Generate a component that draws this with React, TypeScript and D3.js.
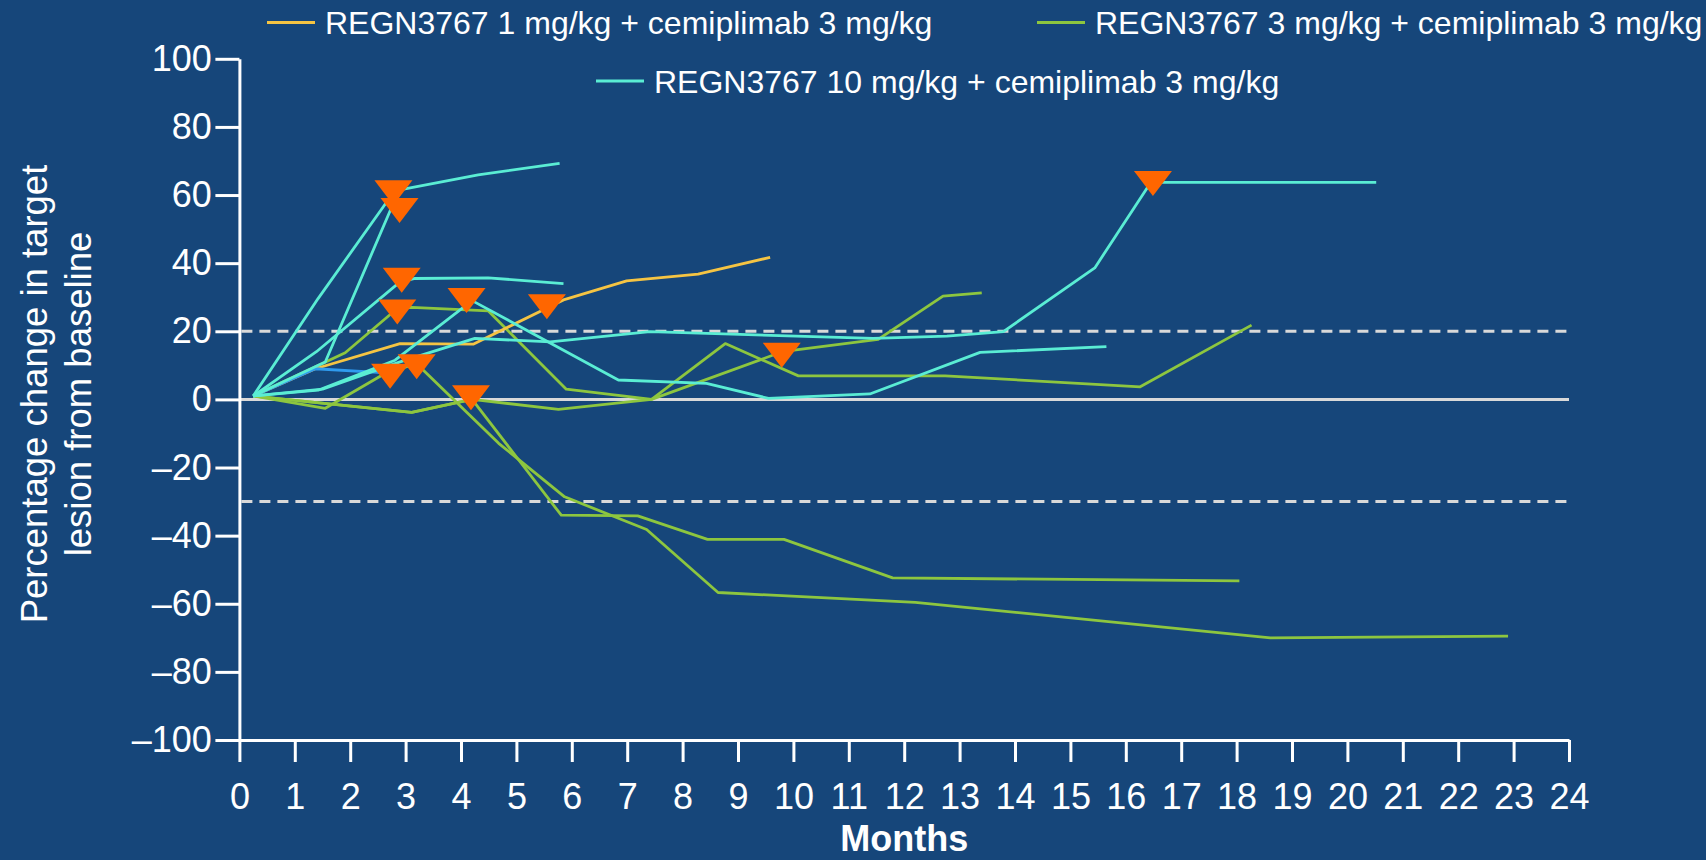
import { useEffect, useRef } from "react";
import * as d3 from "d3";

// axis ticks
const monthTicks = [0, 1, 2, 3, 4, 5, 6, 7, 8, 9, 10, 11, 12, 13, 14, 15, 16, 17, 18, 19, 20, 21, 22, 23, 24];
const pctTicks = [-100, -80, -60, -40, -20, 0, 20, 40, 60, 80, 100];
const thresholds = [20, -30];

const armLabels = [
  "REGN3767 1 mg/kg + cemiplimab 3 mg/kg",
  "REGN3767 3 mg/kg + cemiplimab 3 mg/kg",
  "REGN3767 10 mg/kg + cemiplimab 3 mg/kg",
];

// patient traces: [month, % change from baseline]
const low1 = [[0.25, 1], [1.37, 9], [2.9, 16.4], [4.22, 16.2], [5.85, 29.2], [6.99, 34.8], [8.28, 36.8], [9.58, 41.7]];
const other1 = [[0.25, 1], [1.37, 9], [2.65, 7.8]];

const mid1 = [[0.25, 1], [1.91, 13.7], [2.85, 26.7], [3.11, 27], [4.49, 26], [5.9, 3], [7.44, 0], [8.77, 16.4], [10.09, 6.9], [12.74, 6.9], [16.26, 3.7], [18.27, 21.8]];
const mid2 = [[0.25, 1], [1.55, -2.6], [2.65, 7.8], [3.2, 10.5], [4.68, -12.9], [5.87, -28.6], [7.35, -38.2], [8.64, -56.7], [12.2, -59.6], [18.61, -70], [22.9, -69.5]];
const mid3 = [[0.25, 1], [3.11, -3.8], [4.2, 0], [5.76, -2.9], [7.44, 0], [9.8, 14], [11.53, 17.6], [12.7, 30.3], [13.4, 31.3]];
const mid4 = [[0.25, 1], [3.11, -3.8], [4.2, 0], [5.81, -34], [7.19, -34.2], [8.45, -41.1], [9.83, -41.1], [11.79, -52.4], [18.05, -53.3]];

const high1 = [[0.25, 1], [1.42, 29.6], [2.8, 61.2], [4.31, 65.9], [5.78, 69.3]];
const high2 = [[0.25, 1], [1.55, 11], [2.75, 56.5]];
const high3 = [[0.25, 1], [1.39, 14], [2.9, 34.5], [3.17, 35.5], [4.49, 35.7], [5.85, 34]];
const high4 = [[0.25, 1], [1.42, 2.7], [2.81, 11.5], [4.2, 29], [6.84, 5.7], [8.43, 4.7], [9.55, 0.3], [11.38, 1.6], [13.37, 13.8], [15.65, 15.5]];
const high5 = [[0.25, 1], [1.5, 3], [2.9, 11], [4.25, 17.9], [5.61, 16.9], [7.41, 19.9], [11.44, 17.9], [12.77, 18.6], [13.79, 19.9], [15.44, 38.6], [16.45, 63.7], [20.52, 63.7]];

// progression markers
const progression = [
  [2.78, 61.7], [2.89, 56.5], [2.93, 36], [2.85, 26.7], [4.1, 30.1], [5.55, 28.2],
  [2.72, 7.8], [3.2, 10.6], [4.18, 1.5], [9.79, 14.0], [16.49, 64.4],
];

const colors = {
  bg: "#16467a",
  low: "#f5c443",
  mid: "#8dc63f",
  high: "#5aedd4",
  other: "#2f9bef",
  marker: "#ff6600",
  ref: "#d9d9d9",
};

const series = [
  { pts: mid1, color: colors.mid },
  { pts: mid2, color: colors.mid },
  { pts: mid3, color: colors.mid },
  { pts: mid4, color: colors.mid },
  { pts: low1, color: colors.low },
  { pts: other1, color: colors.other },
  { pts: high1, color: colors.high },
  { pts: high2, color: colors.high },
  { pts: high3, color: colors.high },
  { pts: high4, color: colors.high },
  { pts: high5, color: colors.high },
];

const font = "'Liberation Sans', Arial, Helvetica, sans-serif";

export default function App() {
  const svgRef = useRef<SVGSVGElement>(null);

  useEffect(() => {
    if (!svgRef.current) return;
    const svg = d3.select(svgRef.current);
    svg.selectAll("*").remove();

    const width = 1706;
    const height = 860;
    const x = d3.scaleLinear().domain([0, 24]).range([239.4, 1569]);
    const y = d3.scaleLinear().domain([-100, 100]).range([740, 58.8]);

    svg.append("rect").attr("width", width).attr("height", height).attr("fill", colors.bg);

    // reference lines
    svg.append("line")
      .attr("x1", x(0)).attr("x2", x(24))
      .attr("y1", y(0)).attr("y2", y(0))
      .attr("stroke", colors.ref).attr("stroke-width", 3);

    svg.selectAll(".thr")
      .data(thresholds)
      .join("line")
      .attr("class", "thr")
      .attr("x1", x(0) + 2).attr("x2", x(24))
      .attr("y1", (d) => y(d)).attr("y2", (d) => y(d))
      .attr("stroke", colors.ref)
      .attr("stroke-width", 3)
      .attr("stroke-dasharray", "11 7");

    // axes
    const yAxis = svg.append("g")
      .attr("transform", `translate(${x(0)},0)`)
      .call(
        d3.axisLeft(y)
          .tickValues(pctTicks)
          .tickSize(24)
          .tickSizeOuter(0)
          .tickPadding(3.5)
          .tickFormat((d) => String(d).replace("-", "\u2013")),
      );

    const xAxis = svg.append("g")
      .attr("transform", `translate(0,${y(-100)})`)
      .call(
        d3.axisBottom(x)
          .tickValues(monthTicks)
          .tickSize(22)
          .tickSizeOuter(0)
          .tickPadding(21)
          .tickFormat((d) => String(d)),
      );

    [yAxis, xAxis].forEach((ax) => {
      ax.selectAll("path.domain").attr("stroke", "#fff").attr("stroke-width", 3);
      ax.selectAll(".tick line").attr("stroke", "#fff").attr("stroke-width", 3);
      ax.selectAll(".tick text")
        .attr("fill", "#fff")
        .attr("font-size", "36px")
        .attr("font-family", font);
    });

    // patient lines
    const line = d3.line<number[]>()
      .x((d) => x(d[0]))
      .y((d) => y(d[1]));

    svg.selectAll(".trace")
      .data(series)
      .join("path")
      .attr("class", "trace")
      .attr("d", (d) => line(d.pts))
      .attr("fill", "none")
      .attr("stroke", (d) => d.color)
      .attr("stroke-width", 2.8)
      .attr("stroke-linejoin", "round");

    // progression triangles
    const tri = "M-19,-9L19,-9L0,16Z";
    svg.selectAll(".prog")
      .data(progression)
      .join("path")
      .attr("class", "prog")
      .attr("transform", (d) => `translate(${x(d[0])},${y(d[1])})`)
      .attr("d", tri)
      .attr("fill", colors.marker);

    // legend
    const legendItems = [
      { label: armLabels[0], color: colors.low, lx: 267, ly: 22.5 },
      { label: armLabels[1], color: colors.mid, lx: 1037, ly: 22.5 },
      { label: armLabels[2], color: colors.high, lx: 596, ly: 81 },
    ];
    const lg = svg.selectAll(".leg").data(legendItems).join("g").attr("class", "leg")
      .attr("transform", (d) => `translate(${d.lx},${d.ly})`);
    lg.append("line")
      .attr("x1", 0).attr("x2", 48)
      .attr("stroke", (d) => d.color)
      .attr("stroke-width", 3);
    lg.append("text")
      .attr("x", 58)
      .attr("y", 11.5)
      .attr("fill", "#fff")
      .attr("font-size", "32px")
      .attr("font-family", font)
      .text((d) => d.label);

    // axis titles
    const yTitle = ["Percentage change in target", "lesion from baseline"];
    svg.selectAll(".ytitle")
      .data(yTitle)
      .join("text")
      .attr("class", "ytitle")
      .attr("transform", (_, i) => `translate(${47 + i * 44},394) rotate(-90)`)
      .attr("text-anchor", "middle")
      .attr("fill", "#fff")
      .attr("font-size", "36.5px")
      .attr("font-family", font)
      .text((d) => d);

    svg.append("text")
      .attr("x", (x(0) + x(24)) / 2)
      .attr("y", 851)
      .attr("text-anchor", "middle")
      .attr("fill", "#fff")
      .attr("font-size", "36px")
      .attr("font-weight", "bold")
      .attr("font-family", font)
      .text("Months");
  }, []);

  return (
    <svg
      ref={svgRef}
      width={1706}
      height={860}
      style={{ position: "absolute", left: 0, top: 0, display: "block" }}
    />
  );
}
